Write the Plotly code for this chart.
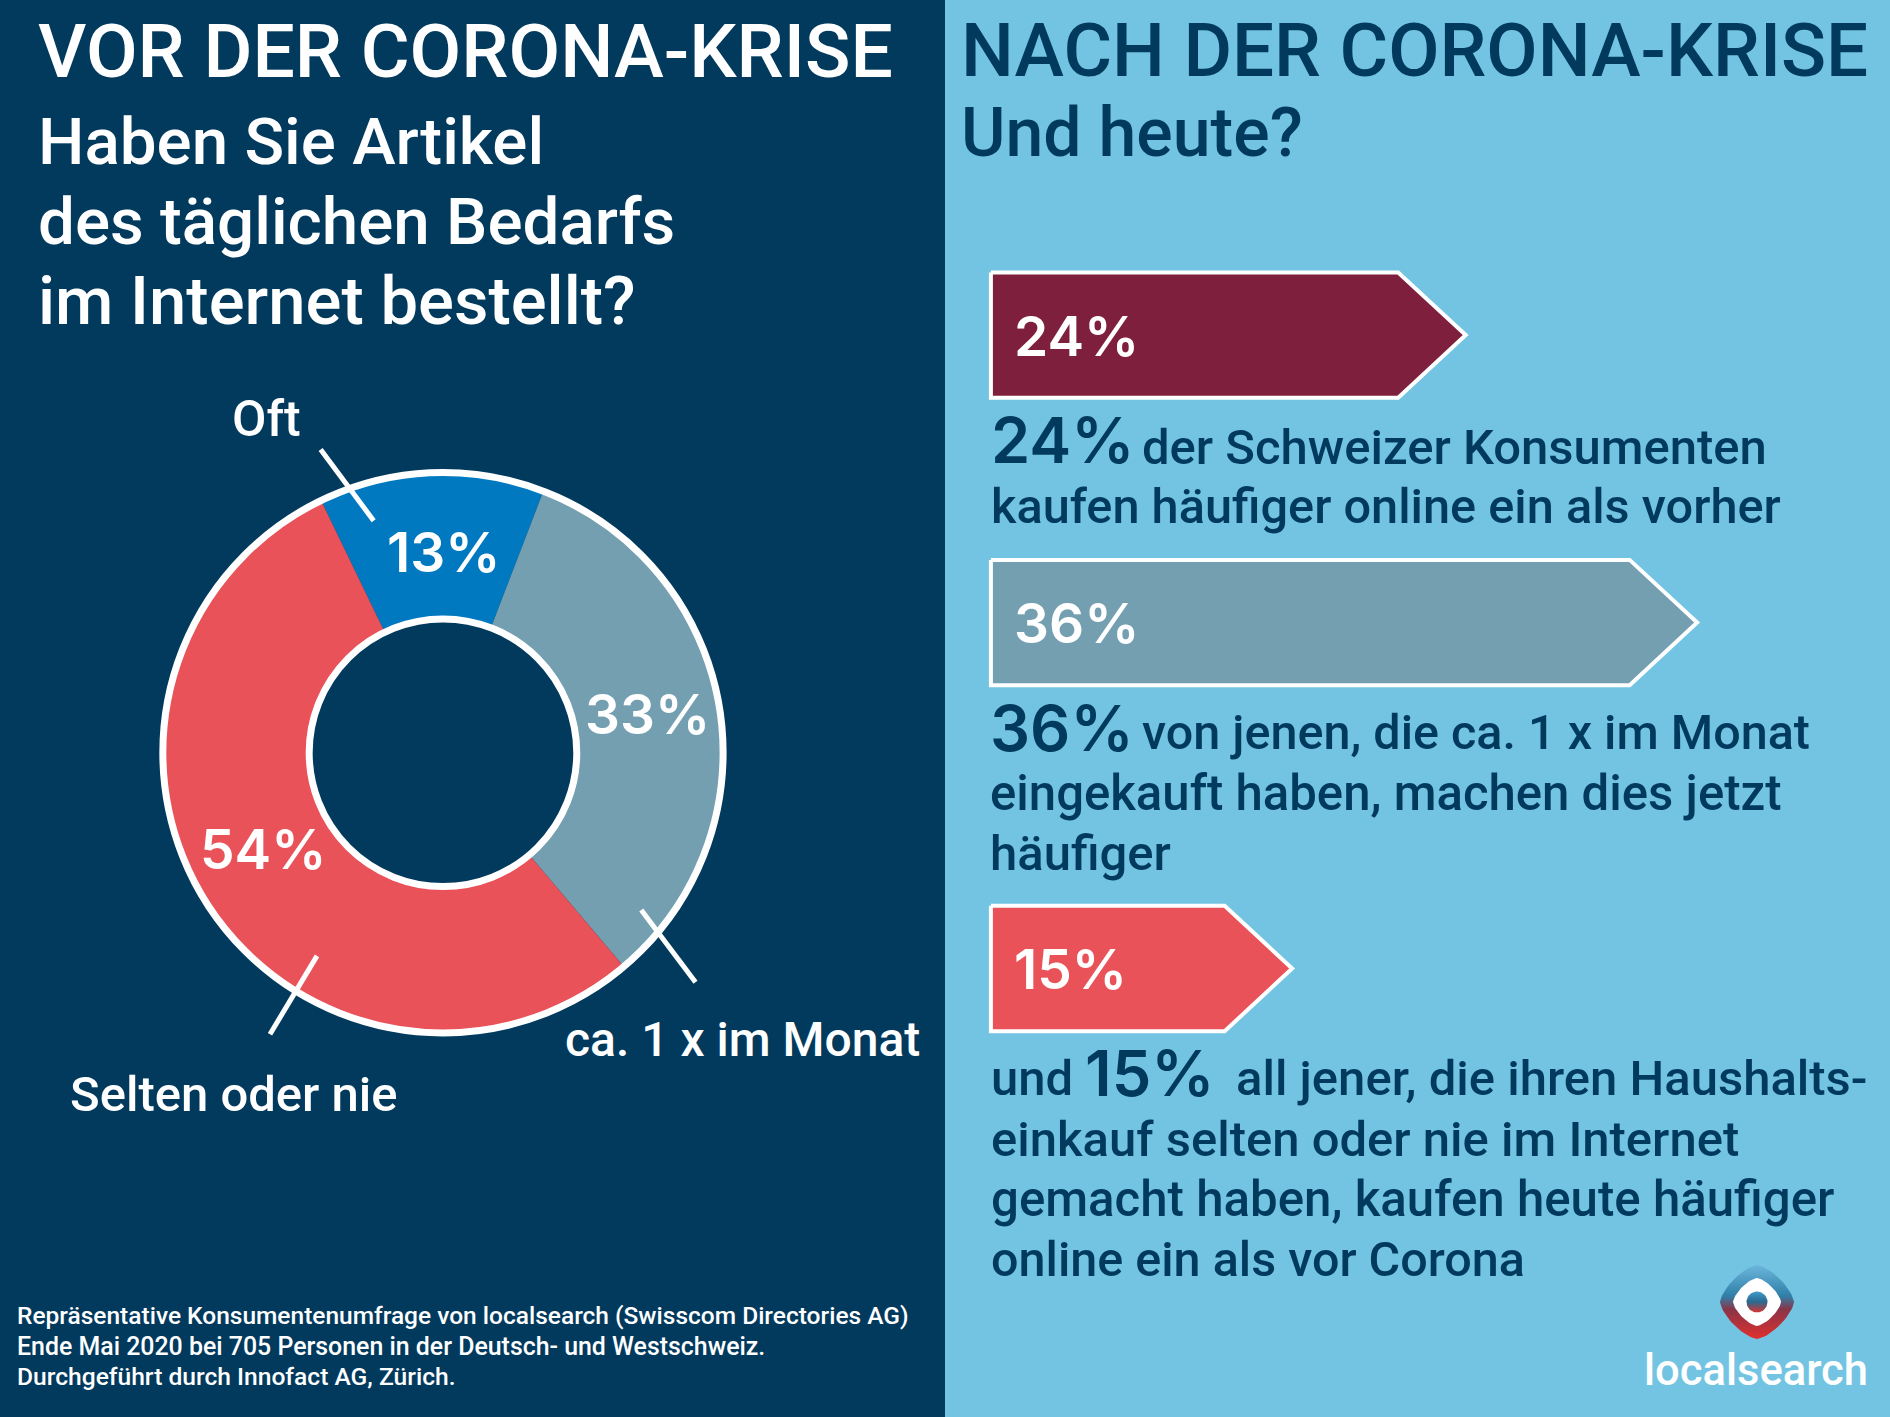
import math
import plotly.graph_objects as go

W, H = 1890, 1417
S = 1890 / 1568

NAVY = "#023a5e"
SKY = "#73c4e2"
WHITE = "#ffffff"

# ---- data ----
donut_labels = ["Oft", "ca. 1 x im Monat", "Selten oder nie"]
donut_values = [13, 33, 54]
donut_colors = ["#0079c1", "#739fb1", "#e95258"]
donut_text_pos = [(368, 458), (537, 592), (218, 704)]

arrow_labels = ["24%", "36%", "15%"]
arrow_values = [24, 36, 15]
arrow_colors = ["#7f1f3e", "#739fb1", "#e95258"]
arrow_rows = [278, 516.5, 803.5]

FONT = "Roboto"
NUM = "Inter"
# text, left x, centre y, size, colour, weight, family
texts = [
    ("VOR DER CORONA-KRISE", 32, 42, 75, WHITE, 500, FONT),
    ("Haben Sie Artikel", 32, 117, 65.5, WHITE, 500, FONT),
    ("des täglichen Bedarfs", 32, 184, 65.5, WHITE, 500, FONT),
    ("im Internet bestellt?", 32, 250, 67, WHITE, 500, FONT),
    ("NACH DER CORONA-KRISE", 798, 42, 74.5, NAVY, 500, FONT),
    ("Und heute?", 798, 110, 68, NAVY, 500, FONT),
    ("Oft", 193, 348, 50, WHITE, 500, FONT),
    ("ca. 1 x im Monat", 470, 862, 48, WHITE, 500, FONT),
    ("Selten oder nie", 59, 908, 49, WHITE, 500, FONT),
    ("Repräsentative Konsumentenumfrage von localsearch (Swisscom Directories AG)", 15, 1091, 24.5, WHITE, 500, FONT),
    ("Ende Mai 2020 bei 705 Personen in der Deutsch- und Westschweiz.", 15, 1117, 24.9, WHITE, 500, FONT),
    ("Durchgeführt durch Innofact AG, Zürich.", 15, 1142, 24.6, WHITE, 500, FONT),
    ("24%", 842, 279, 55, WHITE, 600, NUM),
    ("36%", 842, 517, 55, WHITE, 600, NUM),
    ("15%", 842, 804, 55, WHITE, 600, NUM),
    ("24%", 823, 365, 63, NAVY, 600, NUM),
    ("der Schweizer Konsumenten", 948, 371, 49, NAVY, 500, FONT),
    ("kaufen häufiger online ein als vorher", 823, 420, 48.7, NAVY, 500, FONT),
    ("36%", 822, 604, 63, NAVY, 600, NUM),
    ("von jenen, die ca. 1 x im Monat", 948, 608, 48.5, NAVY, 500, FONT),
    ("eingekauft haben, machen dies jetzt", 822, 658, 49.1, NAVY, 500, FONT),
    ("häufiger", 822, 708, 49, NAVY, 500, FONT),
    ("und", 823, 895, 49, NAVY, 500, FONT),
    ("15%", 901, 890, 63, NAVY, 600, NUM),
    ("all jener, die ihren Haushalts-", 1026, 895, 49, NAVY, 500, FONT),
    ("einkauf selten oder nie im Internet", 823, 945, 49, NAVY, 500, FONT),
    ("gemacht haben, kaufen heute häufiger", 823, 995, 49.2, NAVY, 500, FONT),
    ("online ein als vor Corona", 823, 1045, 48.5, NAVY, 500, FONT),
    ("localsearch", 1365, 1137, 43.5, WHITE, 500, FONT),
]

# ---- layout helpers ----
CX, CY = 367.5 * S, 624.5 * S
R_OUT, R_IN = 232 * S, 111 * S
X0 = 832 * S            # axis position of 0 %
PX_PER_PCT = 16.0 * S   # arrow length per percent
BASE = -0.62            # arrows start just left of zero
ARROW_HALF = 52 * S
ARROW_HEAD = 56 * S
TEXT_NUDGE = -1.7       # annotation boxes sit slightly right of their anchor

fig = go.Figure()

# donut
fig.add_trace(go.Pie(
    labels=donut_labels, values=donut_values, sort=False, direction="clockwise",
    rotation=-25.8, hole=R_IN / R_OUT,
    marker=dict(colors=donut_colors, line=dict(width=0)),
    textinfo="none",
    domain=dict(x=[(CX - R_OUT) / W, (CX + R_OUT) / W],
                y=[1 - (CY + R_OUT) / H, 1 - (CY - R_OUT) / H]),
    showlegend=False, hoverinfo="label+value",
))

# arrows, sized by their percent value on the x axis
head = ARROW_HEAD / PX_PER_PCT
for name, v, c, row in zip(arrow_labels, arrow_values, arrow_colors, arrow_rows):
    y0, y1 = (row * S - ARROW_HALF), (row * S + ARROW_HALF)
    fig.add_trace(go.Scatter(
        x=[BASE, v - head, v, v - head, BASE, BASE],
        y=[y0, y0, row * S, y1, y1, y0],
        mode="lines", fill="toself", fillcolor=c,
        line=dict(color=WHITE, width=4), name=name, showlegend=False,
        xaxis="x", yaxis="y",
    ))

# logo mark
def squircle(cx, cy, r, p=1.45, n=80):
    xs, ys = [], []
    for i in range(n + 1):
        t = 2 * math.pi * i / n
        c, s = math.cos(t), math.sin(t)
        xs.append(cx + r * math.copysign(abs(c) ** (2 / p), c))
        ys.append(cy + r * math.copysign(abs(s) ** (2 / p), s))
    return xs, ys

LX, LY = 1757, 1302
grad = [[0, "#e1302c"], [0.4, "#8a3448"], [0.58, "#2f7fa8"], [1, "#6cb6dc"]]
for r, p, fillkw in [
    (37, 1.45, dict(fillgradient=dict(type="vertical", colorscale=grad))),
    (24, 1.45, dict(fillcolor=WHITE)),
]:
    xs, ys = squircle(LX, LY, r, p)
    fig.add_trace(go.Scatter(x=xs, y=ys, mode="lines", fill="toself", line=dict(width=0),
                             xaxis="x2", yaxis="y2", showlegend=False, hoverinfo="skip", **fillkw))
xs, ys = squircle(LX, LY, 10.5, 2)
fig.add_trace(go.Scatter(x=xs, y=ys, mode="lines", fill="toself", line=dict(width=0),
                         fillgradient=dict(type="vertical", colorscale=[[0, "#d8322f"], [0.5, "#2a6a90"], [1, "#3f9cc9"]]),
                         xaxis="x2", yaxis="y2", showlegend=False, hoverinfo="skip"))

shapes = [
    dict(type="rect", xref="x2", yref="y2", x0=784 * S, x1=W, y0=0, y1=H,
         fillcolor=SKY, line=dict(width=0), layer="below"),
]
for r in (R_OUT + 0.5, R_IN):
    shapes.append(dict(type="circle", xref="x2", yref="y2", x0=CX - r, x1=CX + r, y0=CY - r, y1=CY + r,
                       line=dict(color=WHITE, width=7), fillcolor="rgba(0,0,0,0)", layer="above"))
for (a, b, c, d) in [(266, 373, 310, 432), (532, 755, 577, 815), (263, 793, 224, 858)]:
    shapes.append(dict(type="line", xref="x2", yref="y2", x0=a * S, y0=b * S, x1=c * S, y1=d * S,
                       line=dict(color=WHITE, width=5), layer="above"))

annotations = [
    dict(text=t, x=(x + TEXT_NUDGE) * S / W, y=1 - y * S / H, xref="paper", yref="paper",
         xanchor="left", yanchor="middle", showarrow=False, borderpad=0,
         font=dict(family=fam, size=sz, color=col, weight=w), align="left")
    for t, x, y, sz, col, w, fam in texts
]
for v, (x, y) in zip(donut_values, donut_text_pos):
    annotations.append(dict(text=f"{v}%", x=x * S / W, y=1 - y * S / H, xref="paper", yref="paper",
                            xanchor="center", yanchor="middle", showarrow=False, borderpad=0,
                            font=dict(family=NUM, size=55, color=WHITE, weight=600)))

axis_off = dict(visible=False, showgrid=False, zeroline=False, fixedrange=True)
fig.update_layout(
    width=W, height=H, margin=dict(l=0, r=0, t=0, b=0),
    paper_bgcolor=NAVY, plot_bgcolor="rgba(0,0,0,0)",
    xaxis=dict(domain=[0, 1], range=[-X0 / PX_PER_PCT, (W - X0) / PX_PER_PCT], **axis_off),
    yaxis=dict(domain=[0, 1], range=[H, 0], **axis_off),
    xaxis2=dict(domain=[0, 1], range=[0, W], overlaying="x", **axis_off),
    yaxis2=dict(domain=[0, 1], range=[H, 0], overlaying="y", **axis_off),
    shapes=shapes, annotations=annotations, showlegend=False,
)
fig.write_html("out.html", config={"displayModeBar": False},
               post_script="document.body.style.margin='0';document.body.style.overflow='hidden';")
